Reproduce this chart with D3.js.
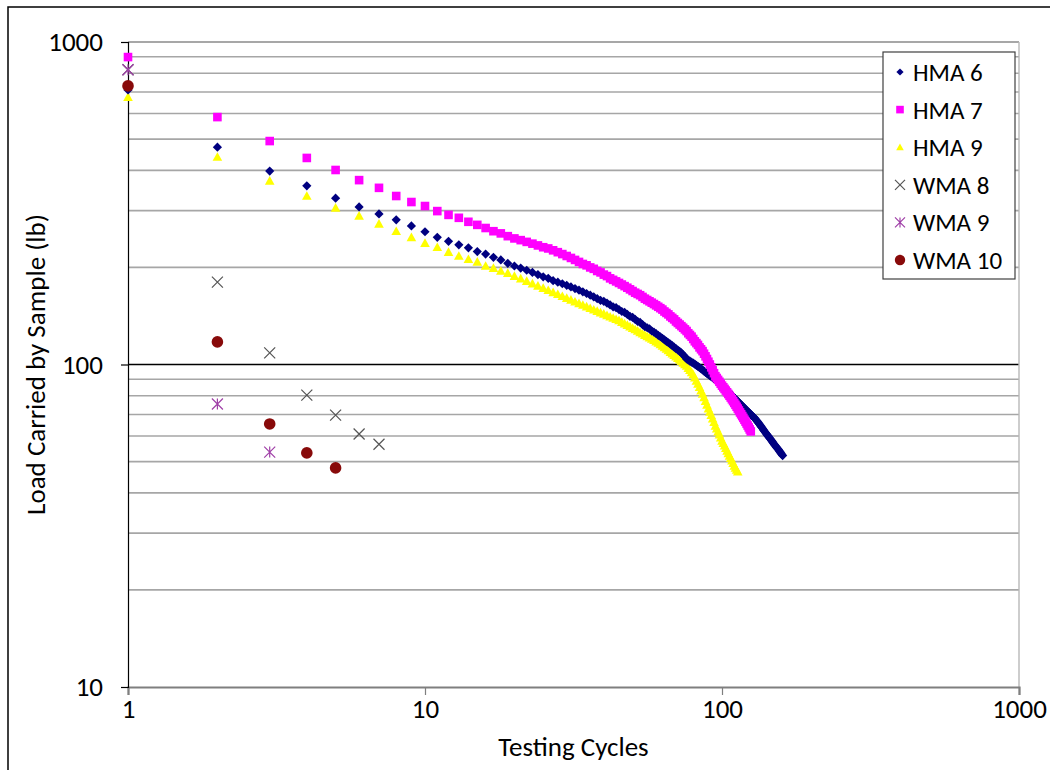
<!DOCTYPE html>
<html>
<head>
<meta charset="utf-8">
<script src="https://cdn.jsdelivr.net/npm/d3@7"></script>
<style>
  body { margin: 0; background: #fff; }
  svg { display: block; }
  text { font-family: Carlito, Lato, "Noto Sans", sans-serif; fill: #000; }
</style>
</head>
<body>
<div id="chart"></div>
<script>
// load (lb) at cycle 1, 2, 3, ... for each sample
var hma6 = [710, 472, 398, 358, 328, 308, 293, 281, 269, 258,
  248, 241, 235, 230, 224, 220, 215, 211, 206, 202,
  199, 196, 193, 190, 187, 185, 182, 180, 178, 176,
  174, 172, 170, 168, 166, 164, 162, 160, 158, 157,
  155, 153, 151, 150, 148, 146, 145, 143, 141, 140,
  138, 136, 135, 133, 131, 130, 129, 127, 126, 124.6,
  123.2, 121.9, 120.6, 119.3, 118, 116.8, 115.6, 114.4, 113.2, 112,
  110.9, 109.8, 108.6, 107.2, 105.6, 104, 103.2, 102.4, 101.7, 101,
  100.2, 99.4, 98.6, 97.8, 97, 96.2, 95.4, 94.6, 93.8, 93,
  92.4, 91.7, 91, 90.4, 89.8, 89.1, 88.4, 87.7, 87, 86.3,
  85.5, 84.7, 83.9, 83.1, 82.4, 81.6, 80.9, 80.2, 79.5, 78.8,
  78.1, 77.5, 76.8, 76.2, 75.6, 75, 74.4, 73.8, 73.2, 72.7,
  72.1, 71.6, 71.1, 70.5, 70, 69.5, 69, 68.6, 68.1, 67.5,
  66.9, 66.3, 65.7, 65.1, 64.5, 63.9, 63.3, 62.7, 62.1, 61.5,
  61, 60.5, 60, 59.5, 59, 58.5, 58, 57.5, 57, 56.5,
  56.1, 55.6, 55.2, 54.8, 54.4, 53.9, 53.5, 53.1, 52.6, 52.2];

var hma7 = [898, 585, 493, 437, 401, 373, 353, 333, 319, 310,
  299, 291, 285, 277, 271, 265, 259, 255, 250, 246,
  243, 240, 237, 234, 231, 229, 226, 223, 220, 217,
  214, 211, 208, 205, 203, 200, 198, 195, 193, 190,
  188, 185, 183, 181, 179, 177, 175, 173, 171, 169,
  167, 165.5, 164, 162, 160, 158.5, 157, 155.5, 154, 152.5,
  151, 149.5, 148, 146, 144.5, 143, 141, 139.5, 138, 136,
  134.5, 133, 131.5, 130, 128.5, 127, 125, 123.5, 122, 120,
  118, 116.5, 115, 113, 111.5, 110, 108, 106, 104, 102,
  100, 98, 96, 94, 92, 90.8, 89.6, 88.4, 87.2, 86,
  85, 84, 83, 82, 81, 80, 79, 78, 77, 76,
  75, 74, 73, 72, 71, 70.1, 69.2, 68.3, 67.4, 66.5,
  65.6, 64.7, 63.8, 62.9, 62];

var hma9 = [675, 440, 371, 333, 306, 289, 273, 259, 248, 238,
  231, 223, 217, 212, 208, 202, 199, 195, 192, 188,
  184.6, 181.3, 178.2, 175.3, 172.5, 169.9, 167.4, 165.1, 162.8, 160.7,
  158.6, 156.6, 154.7, 152.9, 151.2, 149.5, 147.9, 146.4, 144.9, 143.5,
  142.1, 140.7, 139.4, 138.2, 137, 135.4, 133.9, 132.5, 131.1, 129.7,
  128.4, 127.1, 125.8, 124.6, 123.4, 122.3, 121.2, 120.1, 119, 117.8,
  116.6, 115.4, 114.2, 113, 111.8, 110.6, 109.3, 108, 106.9, 105.8,
  104.6, 103.5, 102.4, 101.2, 100.1, 99, 97.5, 96, 94.5, 93,
  91, 89, 87, 85, 83, 81, 79, 77, 75, 73,
  71.3, 69.6, 67.9, 66.2, 64.5, 63.2, 61.9, 60.6, 59.3, 58,
  57, 56, 55, 54, 53, 52.1, 51.2, 50.3, 49.4, 48.5,
  47.8, 47.1, 46.5];

var wma8 = [820, 180, 108.6, 80.4, 69.7, 60.9, 56.6];
var wma9 = [820, 75.4, 53.5];
var wma10 = [731, 117.5, 65.4, 53.2, 47.8];

var xTicks = [1, 10, 100, 1000];
var yTicks = [10, 100, 1000];
var yMinor = [20, 30, 40, 50, 60, 70, 80, 90, 200, 300, 400, 500, 600, 700, 800, 900];

var series = [
  {name: "HMA 6", values: hma6, shape: "diamond", color: "#000080"},
  {name: "HMA 7", values: hma7, shape: "square", color: "#ff00ff"},
  {name: "HMA 9", values: hma9, shape: "triangle", color: "#ffff00"},
  {name: "WMA 8", values: wma8, shape: "cross", color: "#555555"},
  {name: "WMA 9", values: wma9, shape: "star", color: "#a040a8"},
  {name: "WMA 10", values: wma10, shape: "circle", color: "#880a0a"}
];
// HMA 9 sits under HMA 6, which sits under HMA 7
var drawOrder = [2, 0, 1, 3, 4, 5];

var svg = d3.select("#chart").append("svg")
    .attr("width", 1050)
    .attr("height", 770);

svg.append("rect")
    .attr("x", 8).attr("y", 7)
    .attr("width", 1100).attr("height", 800)
    .attr("fill", "#fff")
    .attr("stroke", "#000")
    .attr("stroke-width", 1.5);

var x = d3.scaleLog().domain([1, 1000]).range([128, 1019]);
var y = d3.scaleLog().domain([10, 1000]).range([687, 42]);

// gridlines
svg.append("g").selectAll("line")
    .data(yMinor)
  .enter().append("line")
    .attr("x1", x(1)).attr("x2", x(1000))
    .attr("y1", function(d) { return y(d); })
    .attr("y2", function(d) { return y(d); })
    .attr("stroke", "#a6a6a6")
    .attr("stroke-width", 1.6);

svg.append("line")
    .attr("x1", x(1)).attr("x2", x(1000))
    .attr("y1", y(1000)).attr("y2", y(1000))
    .attr("stroke", "#8a8a8a").attr("stroke-width", 1.6);

svg.append("line")
    .attr("x1", x(1)).attr("x2", x(1000))
    .attr("y1", y(100)).attr("y2", y(100))
    .attr("stroke", "#000").attr("stroke-width", 1.4);

svg.append("line")
    .attr("x1", x(1000)).attr("x2", x(1000))
    .attr("y1", y(1000)).attr("y2", y(10))
    .attr("stroke", "#b8b8b8").attr("stroke-width", 1.4);

// x axis
var xAxis = svg.append("g")
    .attr("transform", "translate(0," + y(10) + ")")
    .call(d3.axisBottom(x).tickValues(xTicks).tickFormat(d3.format("d")).tickSize(8).tickPadding(4));
xAxis.select(".domain").attr("stroke", "#7f7f7f").attr("stroke-width", 2.2);
xAxis.selectAll(".tick line").attr("stroke", "#7f7f7f").attr("stroke-width", 1.2);
xAxis.selectAll(".tick text").style("font-size", "27px").attr("fill", "#000")
    .style("font-family", "Carlito, Lato, 'Noto Sans', sans-serif");

// y axis
var yAxis = svg.append("g")
    .attr("transform", "translate(" + x(1) + ",0)")
    .call(d3.axisLeft(y).tickValues(yTicks).tickFormat(d3.format("d")).tickSize(7).tickPadding(18));
yAxis.select(".domain").attr("stroke", "#000").attr("stroke-width", 1.2);
yAxis.selectAll(".tick line").attr("stroke", "#000").attr("stroke-width", 1.2);
yAxis.selectAll(".tick text").style("font-size", "27px").attr("fill", "#000")
    .style("font-family", "Carlito, Lato, 'Noto Sans', sans-serif");

svg.append("text")
    .attr("x", (x(1) + x(1000)) / 2)
    .attr("y", 756)
    .attr("text-anchor", "middle")
    .style("font-size", "27px")
    .text("Testing Cycles");

svg.append("text")
    .attr("transform", "translate(36," + ((y(10) + y(1000)) / 2) + ") rotate(-90)")
    .attr("text-anchor", "middle")
    .attr("dy", "0.35em")
    .style("font-size", "27px")
    .text("Load Carried by Sample (lb)");

function marker(g, shape, color, s) {
  if (shape == "diamond") {
    g.append("path").attr("d", "M0," + (-s) + "L" + s + ",0L0," + s + "L" + (-s) + ",0Z").attr("fill", color);
  } else if (shape == "square") {
    g.append("rect").attr("x", -s).attr("y", -s).attr("width", 2 * s).attr("height", 2 * s).attr("fill", color);
  } else if (shape == "triangle") {
    g.append("path").attr("d", "M0," + (-s) + "L" + s + "," + (s * 0.8) + "L" + (-s) + "," + (s * 0.8) + "Z").attr("fill", color);
  } else if (shape == "circle") {
    g.append("circle").attr("r", s).attr("fill", color);
  } else {
    g.append("path")
      .attr("d", "M" + (-s) + "," + (-s) + "L" + s + "," + s + "M" + (-s) + "," + s + "L" + s + "," + (-s) +
        (shape == "star" ? "M0," + (-s) + "L0," + s : ""))
      .attr("stroke", color).attr("stroke-width", 1.2).attr("fill", "none");
  }
}

var sizes = {diamond: 4.6, square: 4.3, triangle: 4.8, cross: 5.5, star: 5.5, circle: 5.8};

drawOrder.forEach(function(i) {
  var s = series[i];
  svg.append("g").selectAll("g")
      .data(s.values)
    .enter().append("g")
      .attr("transform", function(d, j) { return "translate(" + x(j + 1) + "," + y(d) + ")"; })
      .each(function() { marker(d3.select(this), s.shape, s.color, sizes[s.shape]); });
});

// legend
var legend = svg.append("g");
legend.append("rect")
    .attr("x", 883).attr("y", 52)
    .attr("width", 132).attr("height", 227)
    .attr("fill", "#fff")
    .attr("stroke", "#404040")
    .attr("stroke-width", 1.2);

var legendSizes = {diamond: 3.6, square: 3.8, triangle: 3.8, cross: 5, star: 5, circle: 5.2};
series.forEach(function(s, i) {
  var cy = 72 + i * 37.6;
  var g = legend.append("g").attr("transform", "translate(900," + cy + ")");
  marker(g, s.shape, s.color, legendSizes[s.shape]);
  legend.append("text")
      .attr("x", 913).attr("y", cy)
      .attr("dy", "0.36em")
      .style("font-size", "25px")
      .text(s.name);
});
</script>
</body>
</html>
